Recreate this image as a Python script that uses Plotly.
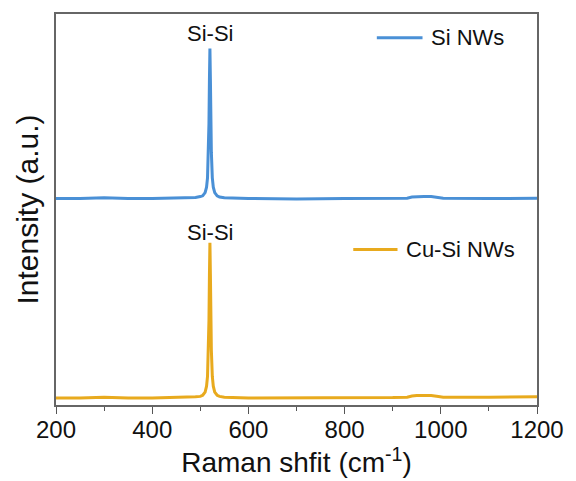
import plotly.graph_objects as go

# Raman shift axis (cm^-1), denser sampling around the Si-Si band
shift = [200, 250, 300, 320, 350, 400, 450, 480, 490, 500, 505, 510, 513, 515,
         517, 518, 519, 520, 521, 522, 523, 525, 527, 530, 535, 540, 550, 600,
         700, 800, 900, 930, 940, 950, 965, 980, 995, 1005, 1100, 1200]

# Stacked intensities (a.u.), Si NWs shifted up above Cu-Si NWs
si_nws = [0.528, 0.528, 0.530, 0.529, 0.528, 0.528, 0.529, 0.530, 0.531, 0.533,
          0.535, 0.543, 0.557, 0.581, 0.646, 0.720, 0.834, 0.912, 0.834, 0.720,
          0.646, 0.581, 0.557, 0.543, 0.535, 0.532, 0.530, 0.528,
          0.527, 0.528, 0.528, 0.529, 0.532, 0.533, 0.533, 0.533, 0.531, 0.529,
          0.528, 0.529]

cu_si_nws = [0.018, 0.018, 0.020, 0.019, 0.018, 0.018, 0.019, 0.020, 0.021, 0.022,
             0.025, 0.033, 0.048, 0.073, 0.140, 0.216, 0.334, 0.415, 0.334, 0.216,
             0.140, 0.073, 0.048, 0.033, 0.025, 0.022, 0.020, 0.018,
             0.018, 0.019, 0.019, 0.020, 0.023, 0.024, 0.024, 0.024, 0.022, 0.020,
             0.020, 0.021]

series_names = ["Si NWs", "Cu-Si NWs"]
peak_label = "Si-Si"
peak_pos = 520

FONT = "Arial, Liberation Sans, sans-serif"
BLUE = "#4a90d6"
GOLD = "#e8aa1e"
colors = [BLUE, GOLD]

fig = go.Figure()
for name, ys, col in zip(series_names, [si_nws, cu_si_nws], colors):
    fig.add_trace(go.Scatter(x=shift, y=ys, mode="lines", name=name,
                             line=dict(color=col, width=3), showlegend=False))

# Peak labels above each Si-Si band
for series, dy in ((si_nws, 0), (cu_si_nws, -4)):
    fig.add_annotation(x=peak_pos, y=max(series), text=peak_label, showarrow=False,
                       yanchor="bottom", yshift=dy,
                       font=dict(family=FONT, size=22, color="#111"))

# Key entries placed beside each spectrum: line sample + name
key_pos = [(0.667, 0.762, 0.939), (0.618, 0.710, 0.398)]
for name, col, (x0, x1, yk) in zip(series_names, colors, key_pos):
    fig.add_shape(type="line", xref="x domain", yref="y domain",
                  x0=x0, x1=x1, y0=yk, y1=yk, line=dict(color=col, width=3))
    fig.add_annotation(xref="x domain", yref="y domain", x=x1 + 0.014, y=yk,
                       xanchor="left", yanchor="middle", text=name, showarrow=False,
                       font=dict(family=FONT, size=22, color="#111"))

fig.update_layout(
    width=576, height=481,
    margin=dict(l=56, r=33, t=13, b=76),
    paper_bgcolor="white", plot_bgcolor="white",
    font=dict(family=FONT, color="#111"),
    showlegend=False,
    xaxis=dict(range=[200, 1200], tick0=200, dtick=200, ticks="outside",
               ticklen=7, tickwidth=1.2, tickcolor="#555",
               minor=dict(dtick=100, ticks="outside", ticklen=4, tickcolor="#555"),
               showline=True, linecolor="#666", linewidth=1.5, mirror=True,
               showgrid=False, zeroline=False, ticklabelstandoff=-5,
               tickfont=dict(size=24, family=FONT),
               title=dict(text="Raman shfit (cm<sup>-1</sup>)", standoff=5,
                          font=dict(size=28, family=FONT))),
    yaxis=dict(range=[0, 1], showticklabels=False, ticks="",
               showline=True, linecolor="#666", linewidth=1.5, mirror=True,
               showgrid=False, zeroline=False,
               title=dict(text="Intensity (a.u.)", standoff=7,
                          font=dict(size=30, family=FONT))),
)

fig.write_html("out.html")
